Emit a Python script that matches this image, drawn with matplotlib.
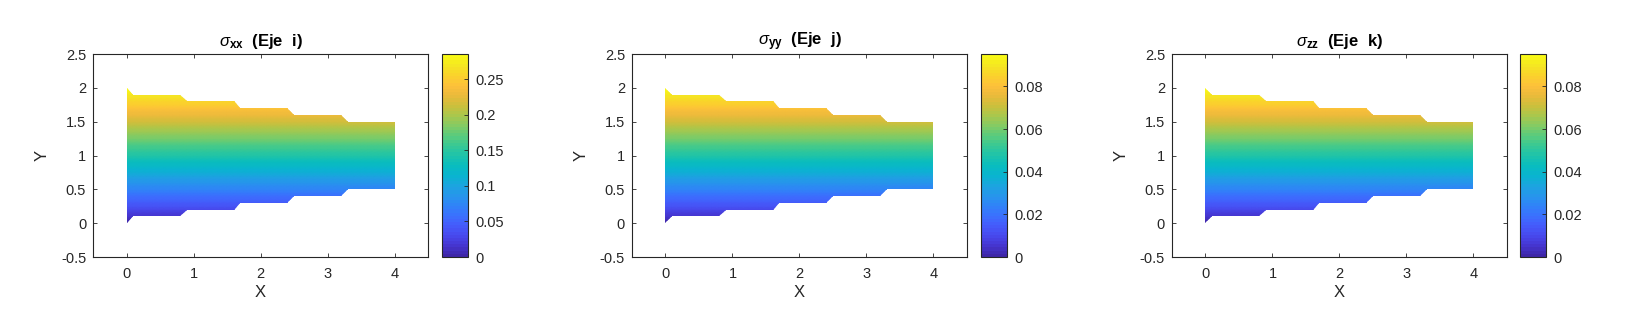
import numpy as np
import matplotlib
matplotlib.use('Agg')
import matplotlib.pyplot as plt
from matplotlib.colors import LinearSegmentedColormap, Normalize
from matplotlib.patches import Polygon
import matplotlib.cm as cm

plt.rcParams['font.family'] = ['Liberation Sans', 'DejaVu Sans']
plt.rcParams['mathtext.fontset'] = 'custom'
plt.rcParams['mathtext.rm'] = 'Liberation Sans'
plt.rcParams['mathtext.it'] = 'Liberation Sans:italic'
plt.rcParams['mathtext.bf'] = 'Liberation Sans:bold'

# beam outline (stepped section)
x_edge = [0.0, 0.1, 0.8, 0.9, 1.6, 1.7, 2.4, 2.5, 3.2, 3.3, 4.0]
y_top = [2.0, 1.9, 1.9, 1.8, 1.8, 1.7, 1.7, 1.6, 1.6, 1.5, 1.5]
y_bot = [0.0, 0.1, 0.1, 0.2, 0.2, 0.3, 0.3, 0.4, 0.4, 0.5, 0.5]

# stress ranges per component (colorbar top values)
titles = [r'$\sigma_{\mathbf{xx}}$  (Eje  i)', r'$\sigma_{\mathbf{yy}}$  (Eje  j)',
          r'$\sigma_{\mathbf{zz}}$  (Eje  k)']
s_max = [0.2857, 0.0952, 0.0952]
cb_ticks = [[0, 0.05, 0.1, 0.15, 0.2, 0.25],
            [0, 0.02, 0.04, 0.06, 0.08],
            [0, 0.02, 0.04, 0.06, 0.08]]
cb_labels = [['0', '0.05', '0.1', '0.15', '0.2', '0.25'],
             ['0', '0.02', '0.04', '0.06', '0.08'],
             ['0', '0.02', '0.04', '0.06', '0.08']]

# approximate MATLAB parula
parula_pts = [
    (0.2422, 0.1504, 0.6603), (0.2725, 0.2124, 0.8201), (0.2810, 0.2860, 0.9300),
    (0.2690, 0.3600, 0.9860), (0.2300, 0.4420, 0.9960), (0.1880, 0.5150, 0.9700),
    (0.1500, 0.5880, 0.9250), (0.1050, 0.6500, 0.8720), (0.0350, 0.7050, 0.8150),
    (0.0350, 0.7400, 0.7450), (0.1150, 0.7650, 0.6690), (0.2200, 0.7850, 0.5800),
    (0.3600, 0.7980, 0.4850), (0.5200, 0.7950, 0.3900), (0.6700, 0.7800, 0.2950),
    (0.8000, 0.7500, 0.2350), (0.9200, 0.7300, 0.2300), (0.9950, 0.7550, 0.2300),
    (0.9830, 0.8250, 0.1700), (0.9600, 0.9000, 0.1350), (0.9769, 0.9839, 0.0805)]
parula = LinearSegmentedColormap.from_list('parula', parula_pts, N=64)

fig = plt.figure(figsize=(16.3, 3.33), dpi=100)
ax_left = [0.0571, 0.3877, 0.7190]
cb_left = [0.2712, 0.6018, 0.9325]
bottom, height = 0.2282, 0.6096
dark = '#262626'

xs = np.linspace(0, 4, 41)
ys = np.linspace(0, 2, 41)
XX, YY = np.meshgrid(xs, ys)

for i in range(3):
    ax = fig.add_axes([ax_left[i], bottom, 0.2055, height])
    norm = Normalize(0, s_max[i])
    Z = s_max[i] * YY / 2.0
    mesh = ax.pcolormesh(XX, YY, Z, cmap=parula, norm=norm, shading='gouraud')
    poly = Polygon(list(zip(x_edge, y_top)) + list(zip(x_edge[::-1], y_bot[::-1])),
                   closed=True, transform=ax.transData, facecolor='none', edgecolor='none')
    ax.add_patch(poly)
    mesh.set_clip_path(poly)

    ax.set_xlim(-0.5, 4.5)
    ax.set_ylim(-0.5, 2.5)
    ax.set_xticks([0, 1, 2, 3, 4])
    ax.set_yticks([-0.5, 0, 0.5, 1, 1.5, 2, 2.5])
    ax.set_yticklabels(['-0.5', '0', '0.5', '1', '1.5', '2', '2.5'])
    ax.tick_params(direction='in', length=3, width=0.6, top=True, right=True,
                   labelsize=10.5, colors=dark, labelcolor=dark, pad=5)
    ax.tick_params(axis='x', pad=7)
    for sp in ax.spines.values():
        sp.set_color(dark)
        sp.set_linewidth(0.8)
    ax.set_xlabel('X', fontsize=12, color=dark, labelpad=3)
    ax.set_ylabel('Y', fontsize=12, color=dark, labelpad=8)
    ax.set_title(titles[i], fontsize=12, fontweight='bold', color='black', pad=6)

    cax = fig.add_axes([cb_left[i], bottom, 0.0162, height])
    cb = fig.colorbar(cm.ScalarMappable(norm=norm, cmap=parula), cax=cax)
    cb.set_ticks(cb_ticks[i])
    cb.set_ticklabels(cb_labels[i])
    cb.ax.tick_params(direction='in', length=3, width=0.6, labelsize=10.5,
                      colors=dark, labelcolor=dark, pad=5)
    cb.outline.set_edgecolor(dark)
    cb.outline.set_linewidth(0.8)

fig.savefig('out.png', dpi=100)
